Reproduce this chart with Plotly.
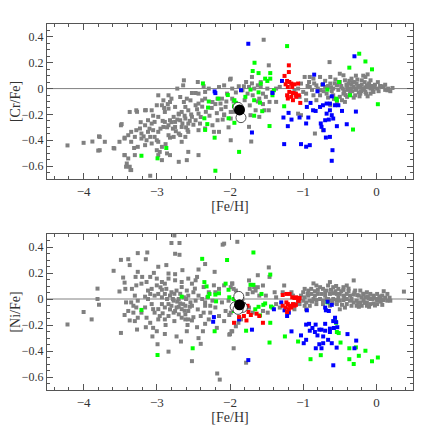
import plotly.graph_objects as go

# [Cr/Fe] panel, values as ([Fe/H], [Cr/Fe])
cr_gray = [
    (-4.22, -0.44), (-4.00, -0.42), (-3.88, -0.41), (-3.79, -0.37), (-3.80, -0.48), (-3.59, -0.46),
    (-3.09, -0.675), (-3.36, -0.63), (-3.27, -0.18), (-3.15, -0.167), (-3.48, -0.275), (-3.44, -0.38),
    (-3.31, -0.46), (-3.44, -0.515), (-3.41, -0.58), (-3.37, -0.605),
    (-2.63, 0.064), (-2.64, 0.025), (-2.44, 0.051), (-2.72, 0.00), (-2.52, -0.034), (-2.47, -0.034),
    (-2.43, -0.039), (-2.36, 0.018), (-2.34, -0.026), (-2.29, 0.00), (-2.15, 0.012), (-2.08, 0.025),
    (-2.04, -0.039), (-2.11, -0.078), (-1.97, 0.00), (-2.98, -0.052), (-2.84, -0.052), (-2.91, -0.091),
    (-2.82, -0.104), (-2.80, -0.078), (-2.68, -0.065), (-2.63, -0.104), (-2.59, -0.078), (-2.54, -0.091),
    (-2.47, -0.129), (-2.43, -0.116), (-2.38, -0.091), (-2.34, -0.078), (-2.24, -0.104), (-2.17, -0.078),
    (-2.13, -0.116), (-2.06, -0.142), (-2.61, -0.142), (-2.57, -0.168), (-2.75, -0.142), (-2.93, -0.129),
    (-3.00, -0.129), (-3.07, -0.168), (-2.89, -0.181), (-2.84, -0.155), (-2.70, -0.194), (-2.66, -0.181),
    (-2.77, -0.219), (-2.82, -0.245), (-2.89, -0.258), (-2.75, -0.258), (-2.68, -0.245), (-2.61, -0.232),
    (-2.52, -0.219), (-2.43, -0.194), (-2.47, -0.245), (-2.57, -0.271), (-2.66, -0.297), (-2.75, -0.297),
    (-2.84, -0.284), (-2.91, -0.297), (-2.98, -0.219), (-3.03, -0.258), (-3.07, -0.271), (-3.12, -0.245),
    (-3.16, -0.284), (-3.23, -0.309), (-3.28, -0.322), (-3.35, -0.335), (-3.39, -0.361), (-3.44, -0.387),
    (-3.51, -0.412), (-3.58, -0.464), (-3.49, -0.284), (-3.37, -0.181), (-3.28, -0.168), (-3.16, -0.168),
    (-3.21, -0.348), (-3.12, -0.335), (-3.05, -0.322), (-2.98, -0.335), (-3.03, -0.374), (-3.09, -0.374),
    (-3.14, -0.40), (-3.21, -0.387), (-3.30, -0.374), (-3.35, -0.412), (-3.26, -0.451), (-3.16, -0.438),
    (-3.07, -0.425), (-2.98, -0.412), (-2.93, -0.451), (-3.00, -0.477), (-2.98, -0.515), (-2.93, -0.554),
    (-2.96, -0.49), (-2.86, -0.502), (-2.82, -0.515), (-2.70, -0.567), (-2.59, -0.554), (-2.57, -0.49),
    (-2.66, -0.412), (-2.77, -0.374), (-2.84, -0.361), (-2.70, -0.348), (-2.61, -0.374), (-2.57, -0.335),
    (-2.43, -0.322), (-2.41, -0.271), (-2.34, -0.309), (-2.22, -0.335), (-2.24, -0.284), (-2.15, -0.335),
    (-2.17, -0.245), (-2.08, -0.206), (-1.99, -0.181), (-3.30, -0.515), (-3.39, -0.541), (-3.42, -0.605),
    (-3.35, -0.631), (-3.44, -0.515), (-3.78, -0.374), (-3.78, -0.477), (-3.71, -0.412), (-2.43, -0.515),
    (-2.72, -0.24), (-2.65, -0.27), (-2.60, -0.30), (-2.78, -0.31), (-2.70, -0.20), (-2.62, -0.21),
    (-2.55, -0.25), (-2.50, -0.28), (-2.86, -0.30), (-2.80, -0.26), (-2.74, -0.33), (-2.58, -0.32),
    (-2.92, -0.25), (-2.95, -0.31), (-2.68, -0.36), (-2.53, -0.20), (-2.45, -0.16), (-2.40, -0.22),
    (-2.38, -0.14), (-2.33, -0.18), (-2.28, -0.21), (-2.25, -0.15), (-2.20, -0.12), (-2.18, -0.19),
    (-2.12, -0.16), (-2.10, -0.24), (-2.05, -0.10), (-2.02, -0.30), (-3.05, -0.21), (-3.10, -0.31),
    (-3.18, -0.37), (-3.22, -0.26), (-3.00, -0.40), (-2.88, -0.43), (-2.82, -0.38), (-2.90, -0.15),
    (-2.85, -0.12),
    (-1.54, 0.378), (-1.47, 0.18), (-0.64, 0.205), (-0.98, 0.09), (-0.86, 0.077), (-0.92, 0.051),
    (-1.03, 0.039), (-1.07, 0.00), (-1.12, -0.013), (-1.00, -0.026), (-0.91, 0.013), (-0.82, 0.025),
    (-0.77, -0.013), (-0.70, 0.013), (-0.63, 0.039), (-0.59, 0.00), (-0.54, 0.025), (-0.50, 0.051),
    (-0.43, 0.064), (-0.38, 0.039), (-0.36, 0.00), (-0.31, 0.013), (-0.27, 0.039), (-0.22, 0.013),
    (-0.17, 0.00), (-0.13, 0.025), (-0.08, 0.00), (-0.04, -0.026), (0.01, 0.00), (0.08, 0.013),
    (0.10, 0.018), (0.15, -0.013), (0.22, 0.005), (-0.45, -0.039), (-0.36, -0.039), (-0.29, -0.052),
    (-0.22, -0.039), (-0.15, -0.026), (-0.08, -0.039), (-0.40, -0.064), (-0.50, -0.064), (-0.59, -0.052),
    (-0.68, -0.039), (-0.77, -0.052), (-0.86, -0.052), (-0.96, -0.039), (-0.47, -0.09), (-0.43, -0.103),
    (-0.54, -0.103), (-0.63, -0.129), (-0.15, 0.09), (-0.08, 0.064), (-0.20, 0.064), (-0.34, 0.077),
    (-0.45, 0.103), (-0.50, 0.115), (-0.63, 0.09), (-0.77, 0.09), (-0.91, 0.09), (-0.82, -0.09),
    (-0.96, -0.09), (-1.05, -0.064), (-1.10, -0.052), (-1.32, 0.013), (-1.37, 0.00), (-1.42, -0.026),
    (-1.49, 0.00), (-1.55, -0.039), (-1.58, 0.013), (-1.62, 0.025), (-1.67, 0.00), (-1.74, 0.013),
    (-1.81, 0.018), (-1.88, 0.018), (-1.83, -0.013), (-1.76, -0.039), (-1.69, -0.052), (-1.60, -0.078),
    (-1.51, -0.064), (-1.46, -0.103), (-1.37, -0.103), (-1.53, -0.168), (-1.47, -0.168), (-1.65, -0.168),
    (-1.72, -0.206), (-1.60, -0.219), (-1.74, -0.296), (-1.99, -0.40), (-1.71, -0.41), (-1.99, 0.077),
    (-1.99, -0.232), (-1.07, -0.194), (-1.03, -0.206), (-0.84, -0.348), (-0.73, -0.322), (-1.78, 0.051),
    (-1.97, -0.078),
    (-0.66, 0.02), (-0.61, -0.02), (-0.57, 0.04), (-0.52, -0.01), (-0.48, 0.02), (-0.44, -0.02),
    (-0.41, 0.03), (-0.39, -0.01), (-0.34, 0.03), (-0.33, -0.02), (-0.30, 0.05), (-0.28, -0.01),
    (-0.25, 0.02), (-0.24, -0.03), (-0.20, 0.03), (-0.19, -0.01), (-0.16, 0.05), (-0.14, -0.04),
    (-0.11, 0.01), (-0.10, 0.04), (-0.06, 0.02), (-0.05, -0.01), (-0.02, 0.03), (0.03, -0.02),
    (0.05, 0.02), (-0.26, 0.07), (-0.37, 0.06), (-0.56, 0.07), (-0.70, 0.06), (-0.74, 0.03),
    (-0.80, 0.00), (-0.88, -0.01), (-0.94, 0.02), (-0.85, 0.04), (-0.31, -0.07), (-0.23, -0.06),
    (-0.12, -0.06), (-0.42, -0.05), (-0.58, -0.08), (-0.66, -0.07), (-0.18, 0.10), (-0.28, 0.10),
    (-0.12, 0.11), (0.02, 0.05), (0.12, 0.03), (0.19, -0.02), (0.16, 0.00), (0.12, -0.01),
    (-0.46, 0.00), (-0.35, -0.01), (-0.21, -0.02), (-0.09, 0.02), (-0.27, 0.00), (-0.53, 0.03),
    (-0.40, 0.02), (-0.15, 0.01), (-0.03, 0.01), (-0.32, 0.05), (-0.62, 0.01), (-0.72, -0.02),
    (-1.58, 0.05), (-1.70, 0.09), (-1.70, 0.04), (-2.00, 0.07), (-1.62, -0.10), (-1.55, -0.12),
    (-1.95, -0.10), (-1.92, -0.03), (-2.08, -0.20), (-1.95, -0.18), (-1.80, -0.09), (-1.73, -0.13),
]
cr_green = [
    (-2.37, 0.04), (-2.29, -0.10), (-2.30, -0.147), (-2.35, -0.23), (-2.31, -0.275), (-2.34, -0.32),
    (-2.21, -0.38), (-2.03, -0.05), (-2.16, -0.078), (-1.94, -0.09), (-2.02, -0.23), (-1.94, -0.265),
    (-2.20, -0.636), (-2.87, -0.46), (-2.99, -0.54), (-3.21, -0.52), (-1.876, -0.49),
    (-1.22, 0.329), (-0.235, 0.27), (-0.15, 0.21), (-0.37, 0.162), (-0.06, 0.149), (-1.665, 0.20),
    (-1.69, 0.136), (-1.61, 0.12), (-1.45, 0.12), (-1.45, 0.077), (-1.52, 0.077), (-1.49, 0.059),
    (-1.58, 0.039), (-1.72, -0.008), (-1.61, -0.029), (-1.79, -0.064), (-1.67, -0.09), (-1.59, -0.109),
    (-1.40, -0.013), (-1.42, -0.052), (-1.26, -0.137), (-1.56, -0.175), (-1.67, -0.21), (-1.46, -0.29),
    (-1.92, -0.11), (-1.945, -0.137), (-0.67, -0.008), (-0.51, 0.051), (-0.36, -0.052), (-0.55, -0.078),
    (-0.54, -0.09), (0.02, -0.121), (-0.32, -0.317),
]
cr_blue = [
    (-1.75, 0.347), (-0.30, 0.25), (-0.85, 0.108), (-1.29, 0.059), (-0.73, 0.033), (-1.42, -0.034),
    (-1.85, -0.013), (-0.805, -0.021), (-0.61, -0.06), (-0.90, -0.111), (-0.95, -0.142), (-0.865, -0.168),
    (-0.83, -0.173), (-0.77, -0.142), (-0.73, -0.129), (-0.68, -0.116), (-0.635, -0.116), (-0.565, -0.129),
    (-0.52, -0.129), (-0.635, -0.168), (-0.68, -0.194), (-0.61, -0.206), (-0.59, -0.232), (-0.65, -0.24),
    (-0.70, -0.245), (-0.76, -0.27), (-0.75, -0.296), (-0.72, -0.322), (-0.69, -0.379), (-0.635, -0.374),
    (-0.54, -0.291), (-0.405, -0.276), (-0.28, -0.178), (-0.47, -0.173), (-0.93, -0.224), (-0.96, -0.27),
    (-1.05, -0.224), (-1.16, -0.24), (-1.27, -0.224), (-1.20, -0.188), (-1.21, -0.291), (-1.26, -0.43),
    (-1.03, -0.43), (-0.96, -0.45), (-0.91, -0.438), (-0.60, -0.477), (-0.61, -0.559), (-2.21, -0.022),
    (-2.20, -0.035), (-1.70, -0.34),
]
cr_red = [
    (-1.196, 0.18), (-1.196, 0.128), (-1.255, 0.098), (-1.22, 0.059), (-1.19, 0.051), (-1.163, 0.039),
    (-1.24, 0.033), (-1.21, 0.013), (-1.15, 0.013), (-1.12, 0.033), (-1.07, 0.039), (-1.19, -0.026),
    (-1.14, -0.034), (-1.10, -0.039), (-1.22, -0.052), (-1.163, -0.064), (-1.095, -0.064), (-1.06, -0.052),
    (-1.21, -0.077), (-1.14, -0.09), (-1.04, -0.111),
]
cr_open = [(-1.85, -0.225), (-1.89, -0.145)]
cr_filled = [(-1.87, -0.165)]

# [Ni/Fe] panel, ([Fe/H], [Ni/Fe])
ni_gray = [
    (-4.22, -0.196), (-4.00, -0.10), (-3.89, -0.157), (-3.81, 0.00), (-3.81, 0.08), (-3.79, -0.044),
    (-3.59, 0.217), (-3.49, 0.301), (-3.39, 0.306), (-3.37, 0.261), (-3.26, 0.353), (-3.13, 0.358),
    (-3.15, 0.306), (-3.26, 0.209), (-3.20, 0.17), (-3.29, 0.17), (-3.46, 0.165), (-3.44, 0.126),
    (-3.51, 0.058), (-3.43, 0.078), (-3.34, 0.078), (-3.28, 0.105), (-3.21, 0.118), (-3.14, 0.131),
    (-3.09, 0.17), (-3.04, 0.201), (-2.98, 0.248), (-2.87, 0.261), (-2.84, 0.196), (-2.75, 0.191),
    (-2.65, 0.222), (-2.69, 0.34), (-2.75, 0.348), (-2.80, 0.431), (-2.76, 0.489), (-2.69, 0.431),
    (-2.43, 0.227), (-2.34, 0.269), (-2.21, 0.209), (-2.10, 0.418), (-3.30, 0.026), (-3.42, -0.026),
    (-3.35, -0.026), (-3.26, -0.013), (-3.32, -0.052), (-3.39, -0.092), (-3.44, -0.123), (-3.37, -0.165),
    (-3.27, -0.235), (-3.49, -0.261), (-3.15, -0.217), (-3.05, -0.222), (-3.06, -0.288), (-3.00, -0.248),
    (-2.89, -0.269), (-2.99, -0.348), (-2.84, -0.405), (-2.52, -0.478), (-2.40, -0.345), (-2.43, -0.301),
    (-2.37, -0.248), (-2.73, -0.288), (-2.67, -0.327), (-2.59, -0.248), (-2.52, -0.165), (-2.45, -0.217),
    (-2.34, -0.191), (-2.29, -0.157), (-2.18, -0.222), (-2.15, -0.131), (-2.08, -0.17), (-2.01, -0.274),
    (-1.97, -0.248), (-1.95, -0.379), (-1.99, -0.105), (-2.06, -0.092), (-2.11, -0.026), (-2.20, -0.065),
    (-2.27, -0.105), (-2.34, -0.052), (-2.38, 0.00), (-2.43, 0.026), (-2.47, -0.013), (-2.52, -0.052),
    (-2.57, -0.092), (-2.61, -0.118), (-2.66, -0.078), (-2.68, -0.034), (-2.73, -0.065), (-2.77, -0.105),
    (-2.84, -0.131), (-2.89, -0.157), (-2.96, -0.131), (-2.98, -0.157), (-3.03, -0.105), (-3.05, -0.078),
    (-3.07, -0.039), (-3.12, 0.00), (-3.16, 0.018), (-3.09, 0.039), (-3.03, 0.026), (-2.98, 0.039),
    (-2.93, 0.013), (-2.89, 0.039), (-2.82, 0.026), (-2.77, -0.013), (-2.70, 0.00), (-2.63, 0.013),
    (-2.57, 0.026), (-2.50, 0.052), (-2.59, 0.065), (-2.66, 0.092), (-2.73, 0.065), (-2.80, 0.052),
    (-2.87, 0.078), (-2.93, 0.071), (-3.00, 0.105), (-3.07, 0.078), (-3.12, 0.065), (-3.00, 0.157),
    (-2.93, 0.131), (-2.89, 0.118), (-2.84, 0.157), (-2.75, 0.144), (-2.66, 0.131), (-2.57, 0.157),
    (-2.52, 0.118), (-2.47, 0.144), (-2.45, 0.17), (-2.36, 0.092), (-2.29, 0.052), (-2.22, 0.105),
    (-2.15, 0.078), (-2.08, 0.105), (-1.97, 0.118), (-1.95, 0.078), (-2.02, -0.013), (-2.93, -0.039),
    (-2.89, -0.065), (-2.84, -0.039), (-2.80, -0.052), (-2.75, -0.092), (-2.70, -0.118), (-2.66, -0.144),
    (-2.61, -0.157), (-2.57, -0.157), (-2.98, -0.078), (-3.16, -0.065), (-3.21, -0.105), (-3.26, -0.144),
    (-3.30, -0.17), (-3.14, -0.144), (-3.09, -0.183), (-3.28, -0.065), (-3.32, -0.105), (-2.36, -0.105),
    (-2.40, -0.131), (-2.24, -0.013), (-2.31, 0.013), (-2.27, -0.052), (-2.20, 0.052), (-2.54, -0.026),
    (-2.61, -0.052), (-2.34, -0.026),
    (-2.78, 0.00), (-2.72, -0.02), (-2.64, -0.04), (-2.60, 0.00), (-2.68, 0.04), (-2.62, -0.09),
    (-2.70, -0.06), (-2.82, -0.08), (-2.86, 0.00), (-2.76, 0.04), (-2.55, -0.06), (-2.48, 0.08),
    (-2.44, -0.08), (-2.58, -0.20), (-2.50, -0.14), (-2.92, -0.11), (-2.95, 0.09), (-2.88, -0.20),
    (-2.76, -0.17),
    (0.376, 0.057), (0.10, 0.06), (0.15, 0.039), (0.08, 0.026), (0.01, 0.039), (-0.037, 0.026),
    (-0.083, 0.039), (-0.13, 0.052), (-0.175, 0.039), (-0.22, 0.065), (-0.29, 0.065), (-0.31, 0.143),
    (-0.405, 0.104), (-0.45, 0.091), (-0.52, 0.078), (-0.59, 0.091), (-0.635, 0.13), (-0.66, 0.104),
    (-0.68, 0.065), (-0.73, 0.078), (-0.77, 0.091), (-0.82, 0.104), (-0.86, 0.12), (-0.89, 0.078),
    (-0.93, 0.065), (-0.98, 0.078), (-1.00, 0.052), (-1.03, 0.026), (-0.98, 0.013), (-0.93, 0.026),
    (-0.89, 0.039), (-0.84, 0.026), (-0.80, 0.039), (-0.75, 0.039), (-0.70, 0.026), (-0.635, 0.039),
    (-0.59, 0.044), (-0.54, 0.039), (-0.50, 0.039), (-0.45, 0.026), (-0.405, 0.039), (-0.36, 0.026),
    (-0.31, 0.034), (-0.24, 0.026), (-0.20, 0.013), (-0.15, 0.013), (-0.105, 0.007), (-0.06, 0.00),
    (0.01, -0.008), (0.055, 0.00), (0.10, -0.008), (0.15, -0.013), (0.19, -0.013), (-1.05, 0.00),
    (-1.00, -0.013), (-0.96, -0.026), (-0.91, -0.013), (-0.86, 0.00), (-0.82, -0.008), (-0.77, 0.00),
    (-0.73, -0.013), (-0.68, 0.00), (-0.635, -0.013), (-0.59, 0.00), (-0.54, -0.008), (-0.50, -0.013),
    (-0.45, -0.008), (-0.405, 0.00), (-0.36, -0.013), (-0.31, -0.026), (-0.27, -0.013), (-0.22, -0.026),
    (-0.175, -0.013), (-0.13, -0.026), (-0.083, -0.039), (-0.037, -0.034), (0.01, -0.039), (0.08, -0.045),
    (-0.405, -0.039), (-0.47, -0.045), (-0.54, -0.039), (-0.635, -0.052), (-0.73, -0.039), (-0.82, -0.039),
    (-0.91, -0.052), (-0.98, -0.052), (-1.05, -0.039), (-0.96, -0.079), (-0.34, -0.052), (-0.27, -0.052),
    (-0.20, -0.052), (-0.13, -0.052), (-0.50, -0.079), (-0.43, -0.066), (-1.10, -0.039), (-1.12, -0.079),
    (-1.14, 0.026), (-1.16, 0.052), (-1.28, 0.052), (-1.26, 0.104), (-1.39, 0.052), (-1.47, 0.243),
    (-1.46, 0.17), (-1.62, 0.183), (-1.55, 0.104), (-1.62, 0.091), (-1.65, 0.065), (-1.69, 0.052),
    (-1.73, 0.078), (-1.76, 0.039), (-1.83, 0.00), (-1.81, -0.039), (-1.97, 0.12), (-1.99, 0.091),
    (-1.92, 0.065), (-1.74, -0.066), (-1.69, -0.105), (-1.85, -0.157), (-1.92, -0.21), (-1.98, -0.249),
    (-1.885, -0.183), (-2.01, -0.123), (-1.74, 0.143), (-1.60, 0.026), (-1.51, 0.026), (-1.37, -0.039),
    (-1.32, -0.066), (-1.485, -0.105), (-1.55, -0.092), (-1.37, 0.013), (-1.67, 0.091), (-2.175, -0.573),
    (-2.14, -0.62), (-2.08, 0.426), (-1.90, 0.44), (-1.78, -0.49), (-2.00, -0.27),
    (-0.70, 0.05), (-0.66, 0.00), (-0.62, 0.07), (-0.56, 0.06), (-0.52, 0.01), (-0.48, 0.06),
    (-0.44, 0.02), (-0.38, 0.06), (-0.34, 0.00), (-0.30, 0.05), (-0.26, 0.03), (-0.25, -0.03),
    (-0.18, 0.04), (-0.16, -0.03), (-0.12, 0.02), (-0.08, 0.00), (-0.04, 0.01), (0.00, 0.00),
    (0.04, 0.02), (0.06, -0.02), (0.12, 0.01), (0.18, 0.01), (-0.45, 0.07), (-0.38, 0.08),
    (-0.55, 0.10), (-0.60, -0.03), (-0.80, 0.07), (-0.88, -0.02), (-0.94, 0.04), (-0.24, -0.06),
    (-0.10, -0.06), (-0.02, -0.05), (-0.84, 0.06),
]
ni_green = [
    (-2.38, 0.309), (-2.04, 0.30), (-2.35, 0.13), (-2.32, 0.097), (-2.28, 0.039), (-2.30, 0.018),
    (-2.20, 0.034), (-2.15, 0.044), (-2.06, 0.118), (-2.02, 0.071), (-2.01, 0.013), (-1.95, 0.00),
    (-1.93, 0.00), (-2.19, -0.018), (-2.66, 0.018), (-3.21, -0.084), (-2.21, -0.248), (-2.51, -0.379),
    (-2.99, -0.431), (-1.68, 0.358), (-1.45, 0.188), (-1.72, 0.109), (-1.68, 0.109), (-1.57, 0.039),
    (-1.545, -0.045), (-1.61, -0.06), (-1.655, -0.079), (-1.52, -0.034), (-1.44, -0.058), (-1.42, -0.066),
    (-1.59, -0.126), (-1.45, -0.183), (-1.78, -0.244), (-1.46, -0.335), (-1.25, -0.288), (-1.07, -0.327),
    (-0.90, -0.463), (-0.76, -0.432), (-0.67, -0.026), (-0.565, -0.165), (-0.55, -0.183), (-0.54, -0.254),
    (-0.515, -0.262), (-0.49, -0.335), (-0.37, -0.379), (-0.28, -0.372), (-0.15, -0.398), (-0.24, -0.437),
    (0.02, -0.45), (-0.06, -0.479), (-0.37, -0.463), (-0.31, -0.50), (-1.945, -0.092), (-1.92, -0.013),
]
ni_blue = [
    (-0.61, -0.045), (-0.667, -0.021), (-0.70, -0.066), (-0.69, -0.087), (-0.65, -0.092), (-0.95, -0.087),
    (-1.196, -0.105), (-1.22, -0.131), (-1.255, -0.087), (-1.30, -0.026), (-1.40, -0.079), (-0.565, -0.144),
    (-0.59, -0.17), (-0.55, -0.178), (-0.534, -0.217), (-0.58, -0.223), (-0.635, -0.228), (-0.70, -0.191),
    (-0.75, -0.236), (-0.78, -0.236), (-0.83, -0.197), (-0.874, -0.223), (-0.92, -0.191), (-0.96, -0.197),
    (-0.91, -0.244), (-0.84, -0.254), (-0.805, -0.28), (-0.727, -0.288), (-0.70, -0.244), (-0.635, -0.254),
    (-0.66, -0.314), (-0.727, -0.34), (-0.78, -0.348), (-0.828, -0.379), (-0.75, -0.379), (-0.543, -0.374),
    (-0.61, -0.34), (-0.395, -0.27), (-0.276, -0.32), (-0.30, -0.379), (-1.03, -0.28), (-1.16, -0.249),
    (-0.96, -0.314), (-0.993, -0.34), (-0.589, -0.51), (-1.70, -0.236), (-1.75, -0.47), (-2.22, -0.139),
    (-2.23, -0.175), (-1.876, -0.157),
]
ni_red = [
    (-1.28, 0.031), (-1.23, 0.039), (-1.186, 0.039), (-1.15, 0.013), (-1.12, 0.008), (-1.095, 0.013),
    (-1.05, 0.008), (-1.06, -0.013), (-1.23, -0.026), (-1.21, -0.039), (-1.186, -0.052), (-1.14, -0.039),
    (-1.10, -0.045), (-1.07, -0.013), (-1.24, -0.066), (-1.196, -0.079), (-1.163, -0.066), (-1.12, -0.052),
    (-1.22, -0.10), (-1.28, -0.052), (-1.76, -0.052), (-1.747, -0.10), (-1.81, -0.131), (-1.876, -0.139),
    (-1.775, -0.165), (-1.945, -0.183), (-1.715, -0.123), (-1.637, -0.113), (-1.60, -0.131), (-1.55, -0.183),
]
ni_open = [(-1.88, 0.02), (-1.93, -0.06), (-1.83, -0.065), (-1.89, -0.08)]
ni_filled = [(-1.87, -0.045)]

GRAY = "#808080"
AXC = "#555555"
FONT = "Liberation Serif"

fig = go.Figure()


def add_squares(pts, color, xa, ya):
    fig.add_trace(go.Scatter(
        x=[p[0] for p in pts], y=[p[1] for p in pts], mode="markers", xaxis=xa, yaxis=ya,
        marker=dict(symbol="square", size=4, color=color, line=dict(width=0)),
        showlegend=False, hoverinfo="skip"))


def add_circles(opens, filled, xa, ya):
    fig.add_trace(go.Scatter(
        x=[p[0] for p in opens], y=[p[1] for p in opens], mode="markers", xaxis=xa, yaxis=ya,
        marker=dict(symbol="circle", size=10, color="white", line=dict(width=0.8, color="#222")),
        showlegend=False, hoverinfo="skip"))
    fig.add_trace(go.Scatter(
        x=[p[0] for p in filled], y=[p[1] for p in filled], mode="markers", xaxis=xa, yaxis=ya,
        marker=dict(symbol="circle", size=11, color="black"),
        showlegend=False, hoverinfo="skip"))


for xa, ya, groups, opens, filled in [
    ("x", "y", [cr_gray, cr_green, cr_blue, cr_red], cr_open, cr_filled),
    ("x2", "y2", [ni_gray, ni_green, ni_blue, ni_red], ni_open, ni_filled),
]:
    for pts, col in zip(groups, [GRAY, "#00ff00", "#0000ff", "#ff0000"]):
        add_squares(pts, col, xa, ya)
    add_circles(opens, filled, xa, ya)

xax = dict(range=[-4.5, 0.5], dtick=1, tick0=0, ticks="inside", ticklen=6, tickcolor=AXC,
           showline=True, linecolor=AXC, linewidth=1, mirror="ticks", showgrid=False, zeroline=False,
           automargin=False,
           minor=dict(dtick=0.2, ticks="inside", ticklen=3, tickcolor=AXC, showgrid=False),
           tickfont=dict(family=FONT, size=13, color="#333"),
           title=dict(text="[Fe/H]", font=dict(family=FONT, size=14, color="#333"), standoff=2))
yax = dict(range=[-0.7, 0.5], dtick=0.2, tick0=0, ticks="inside", ticklen=6, tickcolor=AXC,
           showline=True, linecolor=AXC, linewidth=1, mirror="ticks", showgrid=False, zeroline=False,
           automargin=False,
           minor=dict(dtick=0.05, ticks="inside", ticklen=3, tickcolor=AXC, showgrid=False),
           tickfont=dict(family=FONT, size=12, color="#333"))

# the page body adds an 8px offset, so the figure is 428px and margins are shifted by that much
fig.update_layout(
    width=428, height=428, margin=dict(l=39, r=23, t=16, b=46, autoexpand=False),
    paper_bgcolor="white", plot_bgcolor="white",
    xaxis=dict(xax, anchor="y"),
    yaxis=dict(yax, domain=[0.5765, 1.0], anchor="x",
               title=dict(text="[Cr/Fe]", font=dict(family=FONT, size=14, color="#333"), standoff=9)),
    xaxis2=dict(xax, anchor="y2"),
    yaxis2=dict(yax, domain=[0.0, 0.4262], anchor="x2",
                title=dict(text="[Ni/Fe]", font=dict(family=FONT, size=14, color="#333"), standoff=9)),
    shapes=[
        dict(type="line", xref="x domain", yref="y", x0=0, x1=1, y0=0, y1=0,
             line=dict(color=GRAY, width=1), layer="below"),
        dict(type="line", xref="x2 domain", yref="y2", x0=0, x1=1, y0=0, y1=0,
             line=dict(color=GRAY, width=1), layer="below"),
    ],
)

fig.write_html("out.html")
